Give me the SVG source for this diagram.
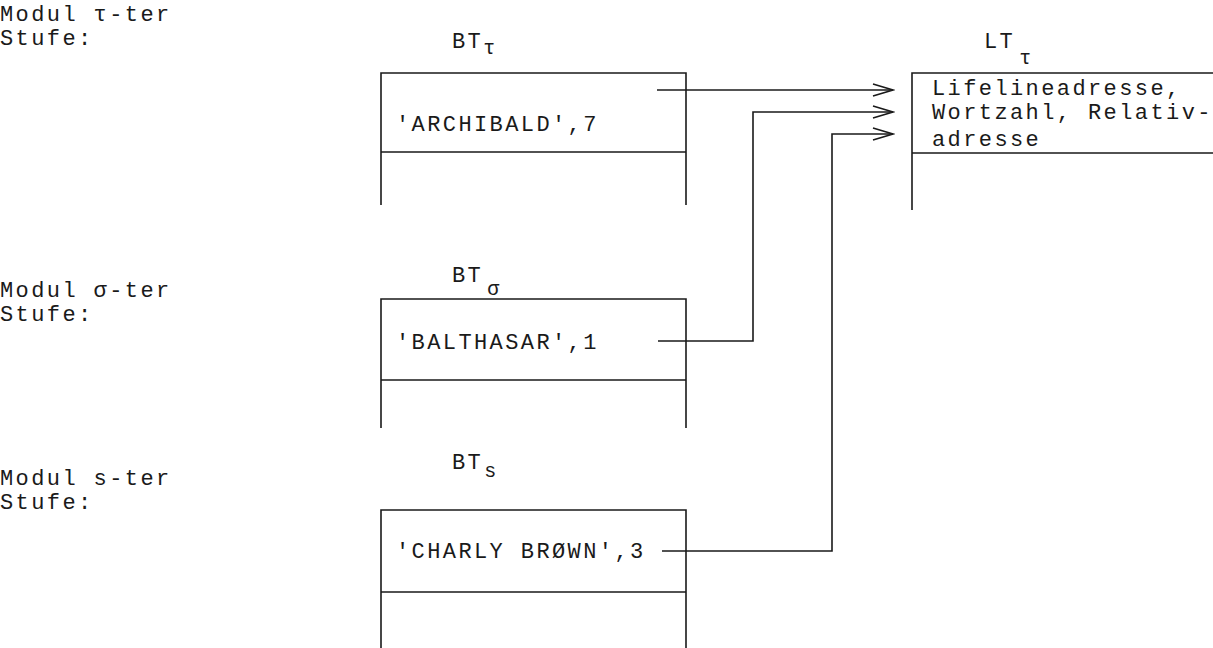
<svg xmlns="http://www.w3.org/2000/svg" width="1213" height="648" viewBox="0 0 1213 648">
<style>
text{font-family:"Liberation Mono","DejaVu Sans Mono",monospace;font-size:22px;letter-spacing:2.4px;fill:#1a1a1a}
.sub{font-size:20px;letter-spacing:0}
.ln{fill:none;stroke:#1a1a1a;stroke-width:1.6}
</style>
<defs>
<marker id="chev" markerUnits="userSpaceOnUse" markerWidth="24" markerHeight="16" refX="22" refY="8" orient="auto">
<path d="M2,2 L22,8 L2,14" fill="none" stroke="#1a1a1a" stroke-width="1.6"/>
</marker>
</defs>
<g id="labels">
<text x="0" y="21">Modul τ-ter</text>
<text x="0" y="45">Stufe:</text>
<text x="0" y="297">Modul σ-ter</text>
<text x="0" y="321">Stufe:</text>
<text x="0" y="485">Modul s-ter</text>
<text x="0" y="509">Stufe:</text>
</g>
<g id="bt_tau">
<text x="452" y="48">BT<tspan class="sub" dx="0" dy="6">τ</tspan></text>
<path class="ln" d="M381,205 V73 H686 V205 M381,152 H686"/>
<text x="396" y="131">'ARCHIBALD',7</text>
</g>
<g id="lt_tau">
<text x="984" y="48">LT<tspan class="sub" dx="4" dy="16">τ</tspan></text>
<path class="ln" d="M912,210 V73 H1213 M912,153 H1213"/>
<text x="932" y="95">Lifelineadresse,</text>
<text x="932" y="119">Wortzahl, Relativ-</text>
<text x="932" y="146">adresse</text>
</g>
<g id="bt_sigma">
<text x="452" y="282">BT<tspan class="sub" dx="4" dy="13">σ</tspan></text>
<path class="ln" d="M381,428 V299 H686 V428 M381,380 H686"/>
<text x="396" y="349">'BALTHASAR',1</text>
</g>
<g id="bt_s">
<text x="452" y="469">BT<tspan class="sub" dx="1" dy="8">s</tspan></text>
<path class="ln" d="M381,648 V510 H686 V648 M381,592 H686"/>
<text x="396" y="558">'CHARLY BRØWN',3</text>
</g>
<g id="connectors">
<path class="ln" d="M657,90 H893" marker-end="url(#chev)"/>
<path class="ln" d="M658,341 H753 V112 H893" marker-end="url(#chev)"/>
<path class="ln" d="M662,551 H832 V134 H893" marker-end="url(#chev)"/>
</g>
</svg>
